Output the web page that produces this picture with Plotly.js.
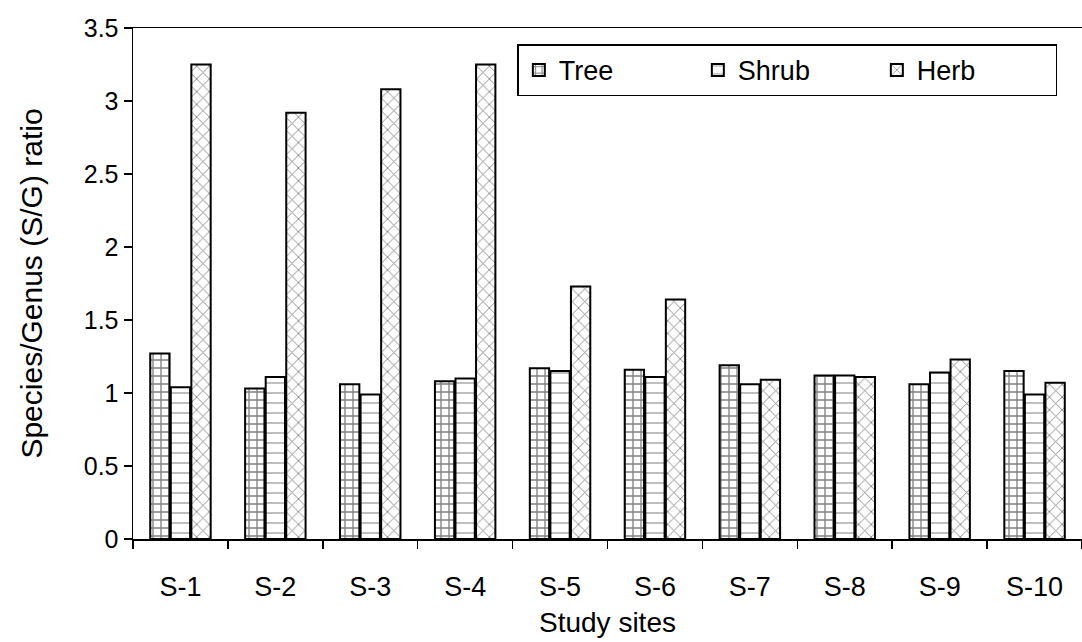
<!DOCTYPE html>
<html>
<head>
<meta charset="utf-8">
<script src="https://cdn.plot.ly/plotly-3.0.1.min.js"></script>
<style>html,body{margin:0;padding:0;background:#fff;}#chart{width:1082px;height:642px;}</style>
</head>
<body>
<div id="chart"></div>
<script>
const sites = ["S-1","S-2","S-3","S-4","S-5","S-6","S-7","S-8","S-9","S-10"];
const tree  = [1.27, 1.03, 1.06, 1.08, 1.17, 1.16, 1.19, 1.12, 1.06, 1.15];
const shrub = [1.04, 1.11, 0.99, 1.10, 1.15, 1.11, 1.06, 1.12, 1.14, 0.99];
const herb  = [3.25, 2.92, 3.08, 3.25, 1.73, 1.64, 1.09, 1.11, 1.23, 1.07];
const yTicks = [0, 0.5, 1, 1.5, 2, 2.5, 3, 3.5];

function mk(name, y, shape, size, sol) {
  return {
    type: 'bar', name: name, x: sites, y: y,
    marker: {
      color: '#ffffff',
      line: {color: '#000000', width: 2},
      pattern: {shape: shape, fgcolor: '#000000', bgcolor: '#ffffff', size: size, solidity: sol, fillmode: 'overlay'}
    },
    hoverinfo: 'x+y'
  };
}
const data = [
  mk('Tree', tree, '+', 8, 0.3),
  mk('Shrub', shrub, '-', 10, 0.1),
  mk('Herb', herb, 'x', 9, 0.18)
];
const F = 'Liberation Sans, Arial, sans-serif';
const layout = {
  width: 1082, height: 642,
  margin: {l: 133, r: 0, t: 28, b: 103},
  paper_bgcolor: '#ffffff', plot_bgcolor: '#ffffff',
  font: {family: F, color: '#000', size: 25},
  barmode: 'group', bargap: 0.35, bargroupgap: 0.06,
  showlegend: true,
  legend: {
    orientation: 'h', x: 0.405, xanchor: 'left', y: 0.968, yanchor: 'top',
    bordercolor: '#000', borderwidth: 1.5, bgcolor: '#fff',
    font: {family: F, size: 27, color: '#000'},
    entrywidth: 134, entrywidthmode: 'pixels', itemwidth: 30
  },
  xaxis: {
    type: 'category', showline: true, linecolor: '#000', linewidth: 1.5, mirror: true,
    ticks: 'outside', tickson: 'boundaries', ticklen: 8, tickcolor: '#000', tickwidth: 1.5,
    showgrid: false, zeroline: false, ticklabelstandoff: 23,
    tickfont: {family: F, size: 27, color: '#000'},
    title: {text: 'Study sites', font: {family: F, size: 28, color: '#000'}, standoff: 11}
  },
  yaxis: {
    range: [0, 3.5], tickvals: yTicks, ticktext: yTicks.map(String),
    showline: true, linecolor: '#000', linewidth: 1.5,
    ticks: 'outside', ticklen: 8, tickcolor: '#000', tickwidth: 1.5,
    showgrid: false, zeroline: false,
    tickfont: {family: F, size: 25, color: '#000'},
    title: {text: 'Species/Genus (S/G) ratio', font: {family: F, size: 30, color: '#000'}, standoff: 32}
  }
};
Plotly.newPlot('chart', data, layout, {displayModeBar: false, staticPlot: true});
</script>
</body>
</html>
